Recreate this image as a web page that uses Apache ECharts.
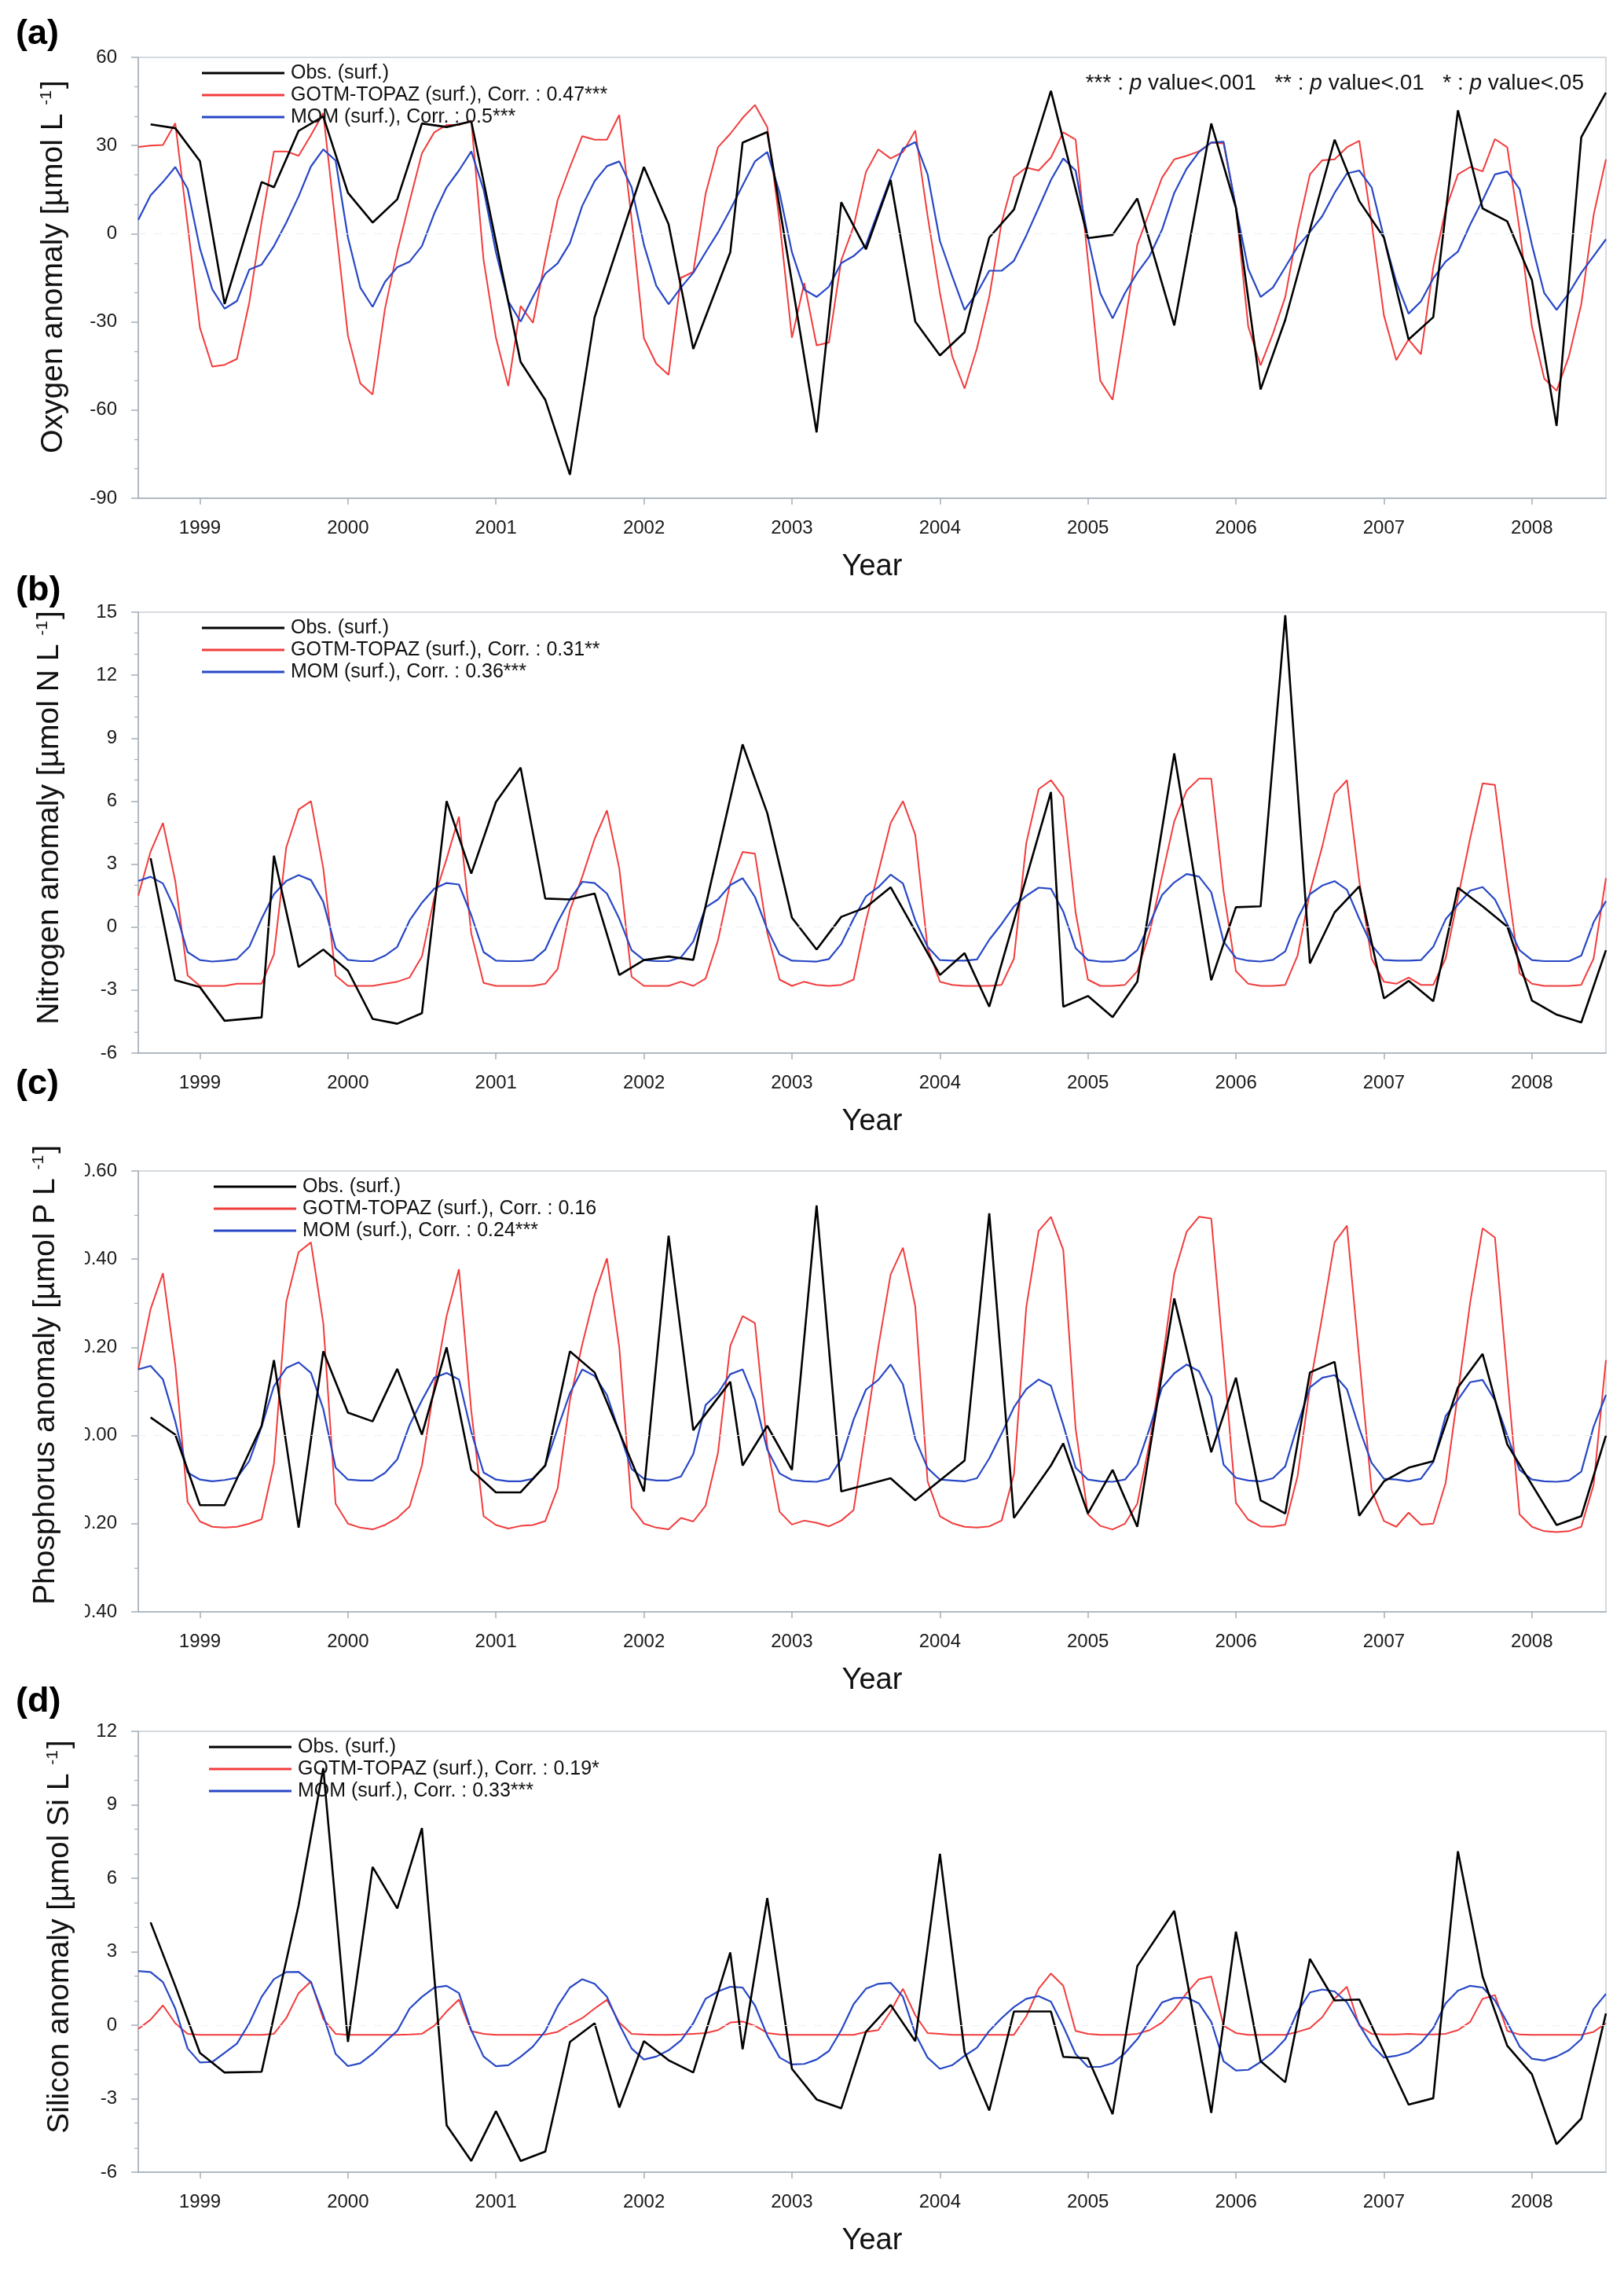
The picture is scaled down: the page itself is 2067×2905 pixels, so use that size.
<!DOCTYPE html>
<html>
<head>
<meta charset="utf-8">
<script src="https://cdn.jsdelivr.net/npm/echarts@6/dist/echarts.min.js"></script>
<style>
html,body{margin:0;padding:0;background:#ffffff;}
#chart{width:2067px;height:2905px;}
</style>
</head>
<body>
<div id="chart"></div>
<script>
// ---------- categories: monthly, Aug 1998 .. Jul 2008 ----------
const months = [];
for (let i = 0; i < 120; i++) {
  const m = (7 + i) % 12;
  const y = 1998 + Math.floor((7 + i) / 12);
  months.push(y + '-' + String(m + 1).padStart(2, '0'));
}
const yearTickLabels = ['1999','2000','2001','2002','2003','2004','2005','2006','2007','2008'];

// ---------- (a) Oxygen ----------
const o2Gotm = [
  29.5, 30, 30.2, 37.6, 3,
  -32, -45.2, -44.6, -42.6, -23.4, 4, 28, 28, 26.5, 33.5, 41, 3,
  -34.7, -50.9, -54.7, -25.6, -6, 11, 27.4, 34.5, 37, 37, 38.5, -9,
  -35.4, -51.8, -24.6, -30.3, -8.8, 11.4, 22.7, 33.2, 32, 32, 40.4, 5,
  -35.6, -44.2, -48, -15, -13, 13.6, 29.4, 34, 39.4, 43.8, 36.3, 4,
  -35.4, -16.8, -38, -37, -9, 2.5, 21, 28.7, 25.6, 27.8, 35.1, 6,
  -20.2, -41.7, -52.7, -39, -21.5, 3.8, 19.3, 22.5, 21.5, 25.9, 34.5, 32,
  -9, -50, -56.5, -30.3, -3.8, 7.6, 19, 25.3, 26.5, 28, 31, 30.7,
  9, -31.6, -44.8, -34, -21.5, 1.3, 20.2, 25, 25.3, 29.4, 31.6, 3.8,
  -27.8, -43, -36, -41, -11.4, 8.2, 20.2, 22.7, 21.2, 32.2, 29.4, 1.3,
  -31.6, -49.3, -53.4, -41.7, -24, 6.3, 25.3
];
const o2Mom = [
  4.7, 13.1, 17.6, 22.7, 15.3,
  -5, -18.9, -25.5, -22.9, -12.2, -10.5, -4.2, 3.8, 12.7, 22.9, 28.7, 24.9,
  -1.3, -18.3, -24.9, -16.4, -11.4, -9.5, -4.2, 6.9, 15.8, 21.5, 28, 15,
  -6.3, -23, -29.9, -21.5, -13.6, -10.1, -3.2, 9.5, 17.9, 23, 24.6, 15.8,
  -3.8, -17.7, -24, -18.3, -13.3, -6.3, 0.4, 8.2, 16.4, 24.6, 27.8, 13.9,
  -6.3, -19, -21.5, -18, -10, -7.6, -3.8, 7.6, 19, 29, 31.2, 20.2,
  -2.5, -14.5, -25.9, -20.2, -12.6, -12.6, -9.2, -0.6, 8.8, 18.3, 25.6, 21.5,
  -1.3, -20.2, -28.8, -20.2, -13.3, -7.6, 1.3, 13.9, 22.1, 27.8, 31, 31.3,
  8.8, -12, -21.5, -18.3, -11.4, -4.4, 0.6, 6, 13.9, 20.5, 21.5, 15.8,
  -1.3, -16.4, -27.2, -23, -15.2, -9.5, -6.1, 3.2, 11.4, 20.2, 21.2, 15.2,
  -3.8, -20.2, -25.9, -20.2, -13.3, -7.6, -1.9
];
// observations: [month index, value]
const o2Obs = [
  [1,37.2],[3,35.9],[5,24.7],[7,-23.9],[10,17.6],[11,15.8],[13,35],[15,39.9],[17,13.9],[19,3.8],
  [21,11.7],[23,37.5],[25,36.3],[27,38.2],[31,-43.6],[33,-56.5],[35,-82],[37,-28.4],[41,22.7],[43,3.2],
  [45,-39.2],[48,-6.3],[49,31],[51,34.6],[55,-67.6],[57,10.7],[59,-5.3],[61,18.3],[63,-29.9],[65,-41.4],
  [67,-33.5],[69,-1.3],[71,8.2],[74,48.6],[77,-1.5],[79,-0.4],[81,12],[84,-31.2],[87,37.5],[89,8.8],
  [91,-53],[93,-29.3],[97,32],[99,11.1],[101,-1.3],[103,-36],[105,-28.4],[107,42],[109,8.6],[111,4.2],
  [113,-15.8],[115,-65.4],[117,32.8],[119,48]
];

// ---------- (b) Nitrogen ----------
const nGotm = [
  1.5, 3.6, 4.96, 2.2, -2.3,
  -2.8, -2.8, -2.8, -2.7, -2.7, -2.7, -1.3, 3.8, 5.6, 6.0, 2.8, -2.3,
  -2.8, -2.8, -2.8, -2.7, -2.6, -2.4, -1.4, 1.4, 3.25, 5.26, -0.3, -2.66,
  -2.8, -2.8, -2.8, -2.8, -2.7, -2.0, 0.8, 2.4, 4.2, 5.56, 2.8, -2.36,
  -2.8, -2.8, -2.8, -2.6, -2.8, -2.45, -0.64, 2.1, 3.58, 3.5, -0.27, -2.5,
  -2.8, -2.6, -2.75, -2.8, -2.75, -2.5, 0.3, 2.6, 4.96, 6.0, 4.4, -1.0,
  -2.6, -2.75, -2.8, -2.8, -2.8, -2.75, -1.5, 4.0, 6.57, 7.0, 6.2, 0.7,
  -2.5, -2.8, -2.8, -2.75, -2.1, -0.27, 2.4, 5.04, 6.5, 7.07, 7.07, 1.7,
  -2.1, -2.7, -2.8, -2.8, -2.75, -1.35, 1.66, 3.84, 6.35, 7.0, 2.2, -1.5,
  -2.6, -2.7, -2.4, -2.75, -2.75, -1.5, 1.4, 4.25, 6.85, 6.77, 2.2, -2.2,
  -2.7, -2.8, -2.8, -2.8, -2.75, -1.5, 2.33
];
const nMom = [
  2.2, 2.4, 2.08, 0.82, -1.19,
  -1.57, -1.64, -1.6, -1.52, -0.94, 0.4, 1.57, 2.2, 2.48, 2.24, 1.2, -1.0,
  -1.56, -1.62, -1.62, -1.36, -0.94, 0.32, 1.16, 1.83, 2.1, 2.03, 0.57, -1.19,
  -1.6, -1.62, -1.62, -1.57, -1.07, 0.23, 1.32, 2.16, 2.1, 1.6, 0.4, -1.1,
  -1.57, -1.62, -1.62, -1.44, -0.69, 0.94, 1.32, 2.0, 2.33, 1.44, -0.1, -1.3,
  -1.6, -1.62, -1.64, -1.52, -0.8, 0.4, 1.46, 1.9, 2.5, 2.08, 0.32, -0.94,
  -1.57, -1.6, -1.6, -1.54, -0.6, 0.15, 0.99, 1.49, 1.88, 1.83, 0.74, -1.0,
  -1.57, -1.64, -1.64, -1.57, -1.1, 0.15, 1.52, 2.13, 2.53, 2.41, 1.66, -0.69,
  -1.47, -1.6, -1.64, -1.56, -1.16, 0.4, 1.57, 1.98, 2.19, 1.78, 0.4, -0.85,
  -1.56, -1.6, -1.6, -1.57, -0.94, 0.37, 1.07, 1.74, 1.91, 1.32, 0.15, -1.1,
  -1.57, -1.62, -1.62, -1.62, -1.36, 0.23, 1.24
];
const nObs = [
  [1,3.28],[3,-2.53],[5,-2.86],[7,-4.46],[10,-4.3],[11,3.4],[13,-1.9],[15,-1.07],[17,-2.08],[19,-4.37],
  [21,-4.6],[23,-4.1],[25,6.0],[27,2.55],[29,5.96],[31,7.6],[33,1.36],[35,1.32],[37,1.6],[39,-2.28],
  [41,-1.57],[43,-1.4],[45,-1.56],[49,8.7],[51,5.43],[53,0.45],[55,-1.07],[57,0.49],[59,0.94],[61,1.9],
  [65,-2.28],[67,-1.24],[69,-3.79],[74,6.43],[75,-3.79],[77,-3.28],[79,-4.29],[81,-2.6],[84,8.27],[87,-2.53],
  [89,0.95],[91,0.99],[93,14.86],[95,-1.73],[97,0.7],[99,1.94],[101,-3.4],[103,-2.56],[105,-3.53],[107,1.88],
  [109,0.99],[111,0.03],[113,-3.5],[115,-4.17],[117,-4.54],[119,-1.1]
];

// ---------- (c) Phosphorus ----------
const pGotm = [
  0.15, 0.287, 0.368, 0.16, -0.151,
  -0.195, -0.207, -0.209, -0.207, -0.2, -0.19, -0.064, 0.303, 0.416, 0.438, 0.255, -0.155,
  -0.2, -0.209, -0.213, -0.203, -0.187, -0.161, -0.068, 0.112, 0.271, 0.377, 0.056, -0.183,
  -0.203, -0.211, -0.205, -0.203, -0.194, -0.12, 0.08, 0.207, 0.319, 0.402, 0.2, -0.163,
  -0.2, -0.209, -0.213, -0.187, -0.195, -0.159, -0.04, 0.203, 0.271, 0.255, -0.024, -0.173,
  -0.202, -0.193, -0.198, -0.206, -0.193, -0.169, 0.016, 0.2, 0.365, 0.426, 0.293, -0.104,
  -0.183, -0.199, -0.207, -0.209, -0.206, -0.193, -0.088, 0.291, 0.464, 0.496, 0.421, 0.016,
  -0.179, -0.205, -0.213, -0.2, -0.155, -0.016, 0.159, 0.367, 0.462, 0.496, 0.492, 0.175,
  -0.153, -0.191, -0.206, -0.207, -0.202, -0.092, 0.112, 0.271, 0.438, 0.476, 0.175, -0.124,
  -0.194, -0.207, -0.175, -0.202, -0.2, -0.108, 0.096, 0.303, 0.47, 0.449, 0.135, -0.179,
  -0.207, -0.217, -0.219, -0.217, -0.207, -0.112, 0.171
];
const pMom = [
  0.15, 0.158, 0.127, 0.032, -0.084,
  -0.1, -0.104, -0.101, -0.096, -0.058, 0.02, 0.112, 0.153, 0.166, 0.142, 0.06, -0.073,
  -0.1, -0.102, -0.102, -0.085, -0.054, 0.024, 0.08, 0.131, 0.142, 0.127, 0.008, -0.084,
  -0.1, -0.104, -0.104, -0.098, -0.068, 0.016, 0.096, 0.15, 0.135, 0.092, 0.008, -0.076,
  -0.098, -0.102, -0.102, -0.093, -0.042, 0.069, 0.096, 0.139, 0.15, 0.081, -0.032, -0.086,
  -0.101, -0.104, -0.105, -0.098, -0.053, 0.036, 0.104, 0.126, 0.161, 0.116, -0.008, -0.074,
  -0.1, -0.102, -0.104, -0.097, -0.052, 0.004, 0.064, 0.105, 0.127, 0.113, 0.024, -0.073,
  -0.1, -0.104, -0.105, -0.1, -0.066, 0.016, 0.108, 0.141, 0.161, 0.146, 0.088, -0.066,
  -0.096, -0.102, -0.104, -0.097, -0.07, 0.024, 0.109, 0.131, 0.137, 0.105, 0.016, -0.062,
  -0.098, -0.1, -0.104, -0.098, -0.06, 0.044, 0.081, 0.121, 0.126, 0.08, 0.0, -0.078,
  -0.1, -0.104, -0.105, -0.102, -0.082, 0.02, 0.092
];
const pObs = [
  [1,0.041],[3,0.002],[5,-0.158],[7,-0.158],[10,0.022],[11,0.171],[13,-0.209],[15,0.191],[17,0.052],[19,0.032],
  [21,0.151],[23,0.002],[25,0.2],[27,-0.078],[29,-0.129],[31,-0.129],[33,-0.068],[35,0.191],[37,0.143],[41,-0.127],
  [43,0.453],[45,0.012],[48,0.122],[49,-0.068],[51,0.022],[53,-0.078],[55,0.522],[57,-0.127],[61,-0.097],[63,-0.147],
  [67,-0.057],[69,0.504],[71,-0.187],[74,-0.068],[75,-0.018],[77,-0.177],[79,-0.078],[81,-0.207],[84,0.311],[87,-0.038],
  [89,0.131],[91,-0.147],[93,-0.177],[95,0.143],[97,0.167],[99,-0.182],[101,-0.104],[103,-0.073],[105,-0.058],[107,0.109],
  [109,0.185],[111,-0.02],[115,-0.203],[117,-0.183],[119,0.0]
];

// ---------- (d) Silicon ----------
const siGotm = [
  -0.15, 0.23, 0.81, 0.08, -0.35,
  -0.39, -0.39, -0.39, -0.39, -0.39, -0.39, -0.35, 0.29, 1.31, 1.79, 0.26, -0.35,
  -0.39, -0.39, -0.39, -0.39, -0.39, -0.38, -0.35, -0.02, 0.56, 1.05, -0.24, -0.35,
  -0.39, -0.39, -0.39, -0.39, -0.38, -0.27, 0.03, 0.29, 0.68, 1.04, 0.11, -0.35,
  -0.38, -0.39, -0.39, -0.38, -0.35, -0.32, -0.2, 0.11, 0.15, -0.02, -0.32, -0.38,
  -0.39, -0.39, -0.39, -0.39, -0.39, -0.39, -0.27, -0.2, 0.56, 1.49, 0.41, -0.32,
  -0.35, -0.39, -0.39, -0.39, -0.39, -0.39, -0.39, 0.36, 1.49, 2.11, 1.61, -0.23,
  -0.35, -0.39, -0.39, -0.39, -0.35, -0.2, 0.11, 0.63, 1.31, 1.88, 1.99, -0.02,
  -0.32, -0.39, -0.39, -0.39, -0.39, -0.27, -0.12, 0.33, 1.08, 1.57, -0.02, -0.35,
  -0.38, -0.38, -0.35, -0.38, -0.38, -0.35, -0.2, 0.14, 1.08, 1.23, -0.23, -0.38,
  -0.39, -0.39, -0.39, -0.39, -0.39, -0.27, 0.08
];
const siMom = [
  2.21, 2.17, 1.76, 0.68, -0.95,
  -1.52, -1.5, -1.13, -0.75, 0.08, 1.16, 1.88, 2.17, 2.18, 1.76, 0.41, -1.17,
  -1.67, -1.55, -1.17, -0.69, -0.23, 0.68, 1.16, 1.54, 1.61, 1.31, -0.2, -1.28,
  -1.67, -1.63, -1.29, -0.87, -0.24, 0.78, 1.54, 1.88, 1.69, 1.16, 0.03, -0.95,
  -1.4, -1.28, -1.02, -0.62, 0.08, 1.08, 1.38, 1.57, 1.54, 0.81, -0.42, -1.32,
  -1.6, -1.58, -1.4, -1.05, -0.2, 0.86, 1.49, 1.69, 1.73, 1.16, -0.35, -1.32,
  -1.78, -1.63, -1.25, -0.92, -0.23, 0.29, 0.74, 1.08, 1.19, 0.96, -0.05, -1.17,
  -1.7, -1.7, -1.55, -1.14, -0.57, 0.18, 0.93, 1.11, 1.13, 0.89, 0.14, -1.47,
  -1.85, -1.82, -1.5, -1.1, -0.57, 0.56, 1.34, 1.46, 1.38, 0.93, 0.03, -0.8,
  -1.32, -1.25, -1.1, -0.72, -0.12, 0.89, 1.41, 1.61, 1.54, 1.01, 0.11, -0.87,
  -1.37, -1.44, -1.28, -1.02, -0.57, 0.66, 1.28
];
const siObs = [
  [1,4.2],[3,1.6],[5,-1.13],[7,-1.93],[10,-1.9],[13,4.9],[15,10.5],[17,-0.68],[19,6.46],[21,4.77],
  [23,8.05],[25,-4.08],[27,-5.54],[29,-3.51],[31,-5.54],[33,-5.16],[35,-0.68],[37,0.08],[39,-3.36],[41,-0.65],
  [43,-1.43],[45,-1.93],[48,2.97],[49,-0.98],[51,5.19],[53,-1.78],[55,-3.03],[57,-3.39],[59,-0.27],[61,0.83],
  [63,-0.65],[65,7.0],[67,-1.1],[69,-3.48],[71,0.56],[74,0.56],[75,-1.29],[77,-1.35],[79,-3.63],[81,2.41],
  [84,4.67],[87,-3.58],[89,3.82],[91,-1.47],[93,-2.33],[95,2.71],[97,1.01],[99,1.05],[103,-3.24],[105,-2.98],
  [107,7.1],[109,1.99],[111,-0.84],[113,-2.0],[115,-4.86],[117,-3.81],[119,0.48]
];

// ---------- labels ----------
const obsName = 'Obs. (surf.)';
const gotmNames = ['GOTM-TOPAZ (surf.), Corr. : 0.47***', 'GOTM-TOPAZ (surf.), Corr. : 0.31**', 'GOTM-TOPAZ (surf.), Corr. : 0.16', 'GOTM-TOPAZ (surf.), Corr. : 0.19*'];
const momNames = ['MOM (surf.), Corr. : 0.5***', 'MOM (surf.), Corr. : 0.36***', 'MOM (surf.), Corr. : 0.24***', 'MOM (surf.), Corr. : 0.33***'];
const yTitles = ['Oxygen anomaly [µmol L {s|-1}]', 'Nitrogen anomaly [µmol N L {s|-1}]', 'Phosphorus anomaly [µmol P L {s|-1}]', 'Silicon anomaly [µmol Si L {s|-1}]'];
const panelTags = ['(a)', '(b)', '(c)', '(d)'];
const yMin = [-90, -6, -0.4, -6];
const yMax = [60, 15, 0.6, 12];
const yStep = [30, 3, 0.2, 3];
const yMinorSplit = [3, 3, 2, 3];
const obsSets = [o2Obs, nObs, pObs, siObs];
const gotmSets = [o2Gotm, nGotm, pGotm, siGotm];
const momSets = [o2Mom, nMom, pMom, siMom];

// ---------- layout / style ----------
const FONT = '"Liberation Sans", Arial, Helvetica, sans-serif';
const AXIS = '#a4aeb9';
const RED = '#f23c3c', BLUE = '#2747c6', BLACK = '#000000';
const gridTops = [73, 779, 1490, 2203];
const GRID_LEFT = 176, GRID_W = 1868, GRID_H = 561;
const nameGaps = [88, 93, 98, 80];
const nameShift = [28, 38, 42, 38];
const legendPos = [[252, 74], [252, 780], [267, 1491], [261, 2204]];
const tagY = [44, 752, 1380, 2166];

const isYearStart = (i) => (i - 5) % 12 === 0;

const grids = [], xAxes = [], yAxes = [], series = [], legends = [];
for (let k = 0; k < 4; k++) {
  grids.push({left: GRID_LEFT, top: gridTops[k], width: GRID_W, height: GRID_H,
    show: true, borderColor: '#c9ced4', borderWidth: 1.5, backgroundColor: 'transparent'});
  xAxes.push({
    type: 'category', gridIndex: k, data: months, boundaryGap: false, position: 'bottom',
    axisLine: {show: true, onZero: false, lineStyle: {color: AXIS, width: 1.5}},
    axisTick: {show: true, interval: isYearStart, length: 8, lineStyle: {color: AXIS, width: 1.5}},
    axisLabel: {interval: isYearStart, formatter: (v) => yearTickLabels[yearTickLabels.indexOf(v.slice(0, 4))],
      fontSize: 24, margin: 26, color: '#1a1a1a', fontFamily: FONT},
    splitLine: {show: false},
    name: 'Year', nameLocation: 'middle', nameGap: 69,
    nameTextStyle: {fontSize: 38, color: '#111', fontFamily: FONT}
  });
  yAxes.push({
    type: 'value', gridIndex: k, min: yMin[k], max: yMax[k], interval: yStep[k],
    axisLine: {show: true, onZero: false, lineStyle: {color: AXIS, width: 1.5}},
    axisTick: {show: true, length: 9, lineStyle: {color: AXIS, width: 1.5}},
    minorTick: {show: true, splitNumber: yMinorSplit[k], length: 5, lineStyle: {color: AXIS, width: 1.2}},
    splitLine: {show: false}, minorSplitLine: {show: false},
    axisLabel: {fontSize: 24, margin: 27, color: '#1a1a1a', fontFamily: FONT,
      formatter: k === 2 ? (v) => v.toFixed(2) : (v) => String(Math.round(v))},
    name: yTitles[k], nameLocation: 'middle', nameRotate: 90, nameGap: nameGaps[k],
    nameTextStyle: {fontSize: 39, color: '#111', fontFamily: FONT, padding: [0, 0, 0, nameShift[k]],
      rich: {s: {fontSize: 21, verticalAlign: 'top', color: '#111', fontFamily: FONT, padding: [0, 2, 0, 0]}}}
  });
  series.push({
    type: 'line', name: gotmNames[k], xAxisIndex: k, yAxisIndex: k, data: gotmSets[k],
    symbol: 'none', color: RED, lineStyle: {color: RED, width: 2}, animation: false,
    markLine: {silent: true, symbol: 'none', label: {show: false}, animation: false,
      lineStyle: {type: [10, 10], color: '#eceef1', width: 1.2},
      data: [{yAxis: 0, lineStyle: {type: [10, 10], color: '#eceef1', width: 1.2}}]}
  });
  series.push({
    type: 'line', name: momNames[k], xAxisIndex: k, yAxisIndex: k, data: momSets[k],
    symbol: 'none', color: BLUE, lineStyle: {color: BLUE, width: 2.2}, animation: false
  });
  series.push({
    type: 'line', name: obsName, xAxisIndex: k, yAxisIndex: k, data: obsSets[k],
    symbol: 'none', color: BLACK, lineStyle: {color: BLACK, width: 2.6}, animation: false
  });
  legends.push({
    orient: 'vertical', left: legendPos[k][0], top: legendPos[k][1],
    icon: 'rect', itemWidth: 105, itemHeight: 3, itemGap: 0, selectedMode: false,
    data: [obsName, gotmNames[k], momNames[k]],
    textStyle: {fontSize: 25, color: '#111', fontFamily: FONT, lineHeight: 28, padding: [0, 0, 0, 3]}
  });
}

const graphics = panelTags.map((t, k) => ({
  type: 'text', x: 20, y: tagY[k], z: 50,
  style: {text: t, fontSize: 45, fontWeight: 'bold', fontFamily: FONT, fill: '#000', align: 'left', verticalAlign: 'middle'}
}));
graphics.push({
  type: 'text', x: 2016, y: 106, z: 50,
  style: {
    text: '*** : {i|p} value<.001   ** : {i|p} value<.01   * : {i|p} value<.05',
    fontSize: 28, fontFamily: FONT, fill: '#111', align: 'right', verticalAlign: 'middle',
    rich: {i: {fontStyle: 'italic', fontSize: 28, fontFamily: FONT, fill: '#111'}}
  }
});
// the leading parts of panel (c) tick labels are cut off in the original figure
graphics.push({type: 'rect', z: 100, shape: {x: 84, y: 1470, width: 24, height: 600}, style: {fill: '#ffffff'}});

const chart = echarts.init(document.getElementById('chart'), null, {renderer: 'canvas'});
chart.setOption({
  backgroundColor: '#ffffff',
  animation: false,
  textStyle: {fontFamily: FONT},
  grid: grids, xAxis: xAxes, yAxis: yAxes, series: series, legend: legends, graphic: graphics
});
</script>
</body>
</html>
